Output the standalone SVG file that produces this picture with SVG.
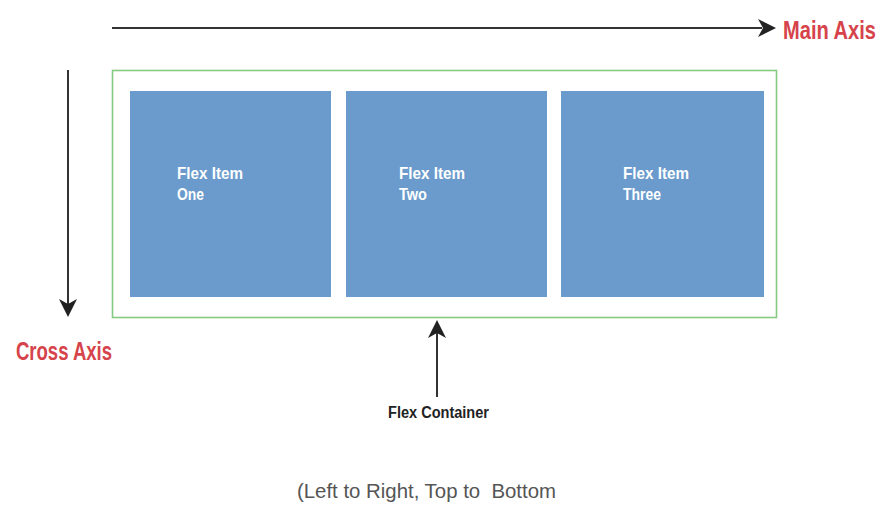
<svg xmlns="http://www.w3.org/2000/svg" width="896" height="522" viewBox="0 0 896 522">
<defs>
<style>
.item{fill:#6a9bcc;}
.itxt{font-family:"Liberation Sans",Arial,sans-serif;font-weight:bold;font-size:17px;fill:#ffffff;}
.axis{font-family:"Liberation Sans",Arial,sans-serif;font-weight:bold;font-size:22px;fill:#d6434b;}
.conn{stroke:#333333;stroke-width:2;fill:none;}
.head{fill:#222222;}
</style>
</defs>
<rect width="896" height="522" fill="#ffffff"/>
<g id="container">
<rect x="112.5" y="70.5" width="664" height="247" fill="none" stroke="#86c981" stroke-width="1.6"/>
</g>
<g id="item-one">
<rect class="item" x="130" y="91" width="201" height="206"/>
<text class="itxt" x="177" y="179" textLength="66" lengthAdjust="spacingAndGlyphs">Flex Item</text>
<text class="itxt" x="177" y="200" textLength="27" lengthAdjust="spacingAndGlyphs">One</text>
</g>
<g id="item-two">
<rect class="item" x="346" y="91" width="201" height="206"/>
<text class="itxt" x="399" y="179" textLength="66" lengthAdjust="spacingAndGlyphs">Flex Item</text>
<text class="itxt" x="399" y="200" textLength="28" lengthAdjust="spacingAndGlyphs">Two</text>
</g>
<g id="item-three">
<rect class="item" x="561" y="91" width="203" height="206"/>
<text class="itxt" x="623" y="179" textLength="66" lengthAdjust="spacingAndGlyphs">Flex Item</text>
<text class="itxt" x="623" y="200" textLength="38" lengthAdjust="spacingAndGlyphs">Three</text>
</g>
<g id="main-axis-label">
<text class="axis" transform="translate(783,39) scale(1,1.14)" x="0" y="0" textLength="93" lengthAdjust="spacingAndGlyphs">Main Axis</text>
</g>
<g id="cross-axis-label">
<text class="axis" transform="translate(16,360) scale(1,1.14)" x="0" y="0" textLength="96" lengthAdjust="spacingAndGlyphs">Cross Axis</text>
</g>
<g id="flex-container-label">
<text x="388" y="418" font-family="'Liberation Sans',Arial,sans-serif" font-weight="bold" font-size="16" fill="#222222" textLength="101" lengthAdjust="spacingAndGlyphs">Flex Container</text>
</g>
<g id="caption">
<text x="297" y="498" font-family="'Liberation Sans',Arial,sans-serif" font-size="21" fill="#555555" style="white-space:pre" textLength="259" lengthAdjust="spacingAndGlyphs">(Left to Right, Top to  Bottom</text>
</g>
<g id="connectors">
<line class="conn" x1="112" y1="28" x2="762" y2="28"/>
<path class="head" d="M776 28 L758 19 L763 28 L758 37 Z"/>
<line class="conn" x1="68" y1="70" x2="68" y2="304"/>
<path class="head" d="M68 317 L59 299 L68 304 L77 299 Z"/>
<line class="conn" x1="437" y1="397" x2="437" y2="333"/>
<path class="head" d="M437 320 L428 338 L437 333 L446 338 Z"/>
</g>
</svg>
